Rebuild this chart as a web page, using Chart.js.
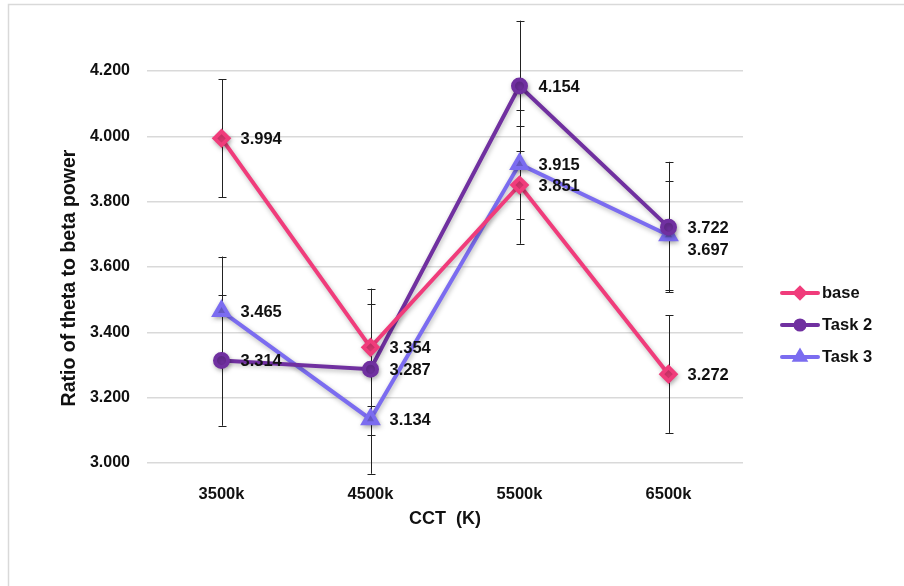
<!DOCTYPE html>
<html>
<head>
<meta charset="utf-8">
<script src="https://cdn.jsdelivr.net/npm/chart.js@4"></script>
<style>
  html, body { margin: 0; padding: 0; background: #fff; }
  #wrap { width: 904px; height: 586px; }
</style>
</head>
<body>
<div id="wrap"><canvas id="chart" width="904" height="586"></canvas></div>
<script>
// data
const categories = ['3500k', '4500k', '5500k', '6500k'];
const baseValues = [3.994, 3.354, 3.851, 3.272];
const task2Values = [3.314, 3.287, 4.154, 3.722];
const task3Values = [3.465, 3.134, 3.915, 3.697];
const baseErrors = [0.18, 0.18, 0.18, 0.18];
const task2Errors = [0.20, 0.20, 0.20, 0.20];
const task3Errors = [0.167, 0.167, 0.167, 0.167];
const yTicks = [3.0, 3.2, 3.4, 3.6, 3.8, 4.0, 4.2];
const yTitle = 'Ratio of theta to beta power';
const xTitle = 'CCT  (K)';

const FONT = '"Liberation Sans", Arial, sans-serif';

const series = [
    { label: 'base', data: baseValues, errors: baseErrors, color: '#f03c7b', point: 'rectRot', radius: 7 },
    { label: 'Task 2', data: task2Values, errors: task2Errors, color: '#7030a0', point: 'circle', radius: 6.5 },
    { label: 'Task 3', data: task3Values, errors: task3Errors, color: '#7b6cf0', point: 'triangle', radius: 8 }
];

// extra vertical nudge for overlapping value labels
const labelNudge = { 'Task 3': [0, 0, 0, 14] };

// outer frame like the source image, plus the y title
const framePlugin = {
    id: 'frame',
    beforeDraw(chart) {
        const ctx = chart.ctx;
        ctx.save();
        ctx.strokeStyle = '#d9d9d9';
        ctx.lineWidth = 1.5;
        ctx.beginPath();
        ctx.moveTo(8.5, 600);
        ctx.lineTo(8.5, 4.5);
        ctx.lineTo(910, 4.5);
        ctx.stroke();

        // y title, Excel puts it a bit below the plot centre
        ctx.translate(70, 278);
        ctx.rotate(-Math.PI / 2);
        ctx.font = 'bold 19.5px ' + FONT;
        ctx.fillStyle = '#111';
        ctx.textAlign = 'center';
        ctx.textBaseline = 'middle';
        ctx.fillText(yTitle, 0, 0);
        ctx.restore();
    }
};

// error bars, drawn behind the lines
const errorBarPlugin = {
    id: 'errorBars',
    beforeDatasetsDraw(chart) {
        const ctx = chart.ctx;
        const y = chart.scales.y;
        ctx.save();
        ctx.strokeStyle = '#222';
        ctx.lineWidth = 1;
        chart.data.datasets.forEach((ds, i) => {
            const meta = chart.getDatasetMeta(i);
            meta.data.forEach((pt, j) => {
                const v = ds.data[j];
                const e = ds.errors[j];
                const top = y.getPixelForValue(v + e);
                const bot = y.getPixelForValue(v - e);
                const x = Math.round(pt.x) + 0.5;
                ctx.beginPath();
                ctx.moveTo(x, top);
                ctx.lineTo(x, bot);
                ctx.moveTo(x - 4, Math.round(top) + 0.5);
                ctx.lineTo(x + 4, Math.round(top) + 0.5);
                ctx.moveTo(x - 4, Math.round(bot) + 0.5);
                ctx.lineTo(x + 4, Math.round(bot) + 0.5);
                ctx.stroke();
            });
        });
        ctx.restore();
        // soft shadow under the lines
        ctx.save();
        ctx.shadowColor = 'rgba(0,0,0,0.28)';
        ctx.shadowBlur = 5;
        ctx.shadowOffsetX = 1;
        ctx.shadowOffsetY = 2;
    },
    afterDatasetsDraw(chart) {
        chart.ctx.restore();
    }
};

// value labels right of each point
const valueLabelPlugin = {
    id: 'valueLabels',
    afterDatasetsDraw(chart) {
        const ctx = chart.ctx;
        ctx.save();
        ctx.font = 'bold 16.5px ' + FONT;
        ctx.fillStyle = '#111';
        ctx.textAlign = 'left';
        ctx.textBaseline = 'middle';
        chart.data.datasets.forEach((ds, i) => {
            const meta = chart.getDatasetMeta(i);
            const nudge = labelNudge[ds.label] || [];
            meta.data.forEach((pt, j) => {
                ctx.fillText(ds.data[j].toFixed(3), pt.x + 19, pt.y + 1 + (nudge[j] || 0));
            });
        });
        ctx.restore();
    }
};

// legend on the right: line with marker, then name
const legendPlugin = {
    id: 'sideLegend',
    afterDraw(chart) {
        const ctx = chart.ctx;
        ctx.save();
        chart.data.datasets.forEach((ds, i) => {
            const yy = 293 + i * 32;
            ctx.strokeStyle = ds.borderColor;
            ctx.lineWidth = 4;
            ctx.lineCap = 'round';
            ctx.beginPath();
            ctx.moveTo(782, yy);
            ctx.lineTo(818, yy);
            ctx.stroke();
            Chart.helpers.drawPoint(ctx, {
                pointStyle: ds.pointStyle,
                radius: ds.pointRadius * 0.7,
                rotation: 0,
                borderWidth: 1
            }, 800, yy);
            ctx.fillStyle = ds.borderColor;
            ctx.fill();
            ctx.fillStyle = '#111';
            ctx.font = 'bold 16.5px ' + FONT;
            ctx.textAlign = 'left';
            ctx.textBaseline = 'middle';
            ctx.fillText(ds.label, 822, yy);
        });
        ctx.restore();
    }
};

const ctx = document.getElementById('chart').getContext('2d');

new Chart(ctx, {
    type: 'line',
    data: {
        labels: categories,
        datasets: series.map(s => ({
            label: s.label,
            data: s.data,
            errors: s.errors,
            borderColor: s.color,
            backgroundColor: s.color,
            pointBackgroundColor: s.color,
            pointBorderColor: s.color,
            pointStyle: s.point,
            pointRadius: s.radius,
            pointHoverRadius: s.radius,
            borderWidth: 4,
            tension: 0
        }))
    },
    options: {
        responsive: false,
        animation: false,
        events: [],
        layout: {
            padding: { left: 57, right: 161, top: 71, bottom: 56 }
        },
        plugins: {
            legend: { display: false },
            tooltip: { enabled: false }
        },
        scales: {
            x: {
                offset: true,
                grid: { display: false, drawTicks: false },
                border: { display: false },
                ticks: {
                    color: '#111',
                    padding: 22,
                    font: { family: FONT, size: 16.5, weight: 'bold' }
                },
                title: {
                    display: true,
                    text: xTitle,
                    color: '#111',
                    padding: 0,
                    font: { family: FONT, size: 18, weight: 'bold' }
                },
                afterFit(scale) { scale.height = 67; }
            },
            y: {
                min: yTicks[0],
                max: yTicks[yTicks.length - 1],
                afterBuildTicks(scale) {
                    scale.ticks = yTicks.map(v => ({ value: v }));
                },
                grid: { color: '#d9d9d9', lineWidth: 1.5, drawTicks: false },
                border: { display: false },
                ticks: {
                    color: '#111',
                    padding: 17,
                    font: { family: FONT, size: 16, weight: 'bold' },
                    callback: v => Number(v).toFixed(3)
                },
                title: { display: false },
                afterFit(scale) { scale.width = 90; }
            }
        }
    },
    plugins: [framePlugin, errorBarPlugin, valueLabelPlugin, legendPlugin]
});
</script>
</body>
</html>
